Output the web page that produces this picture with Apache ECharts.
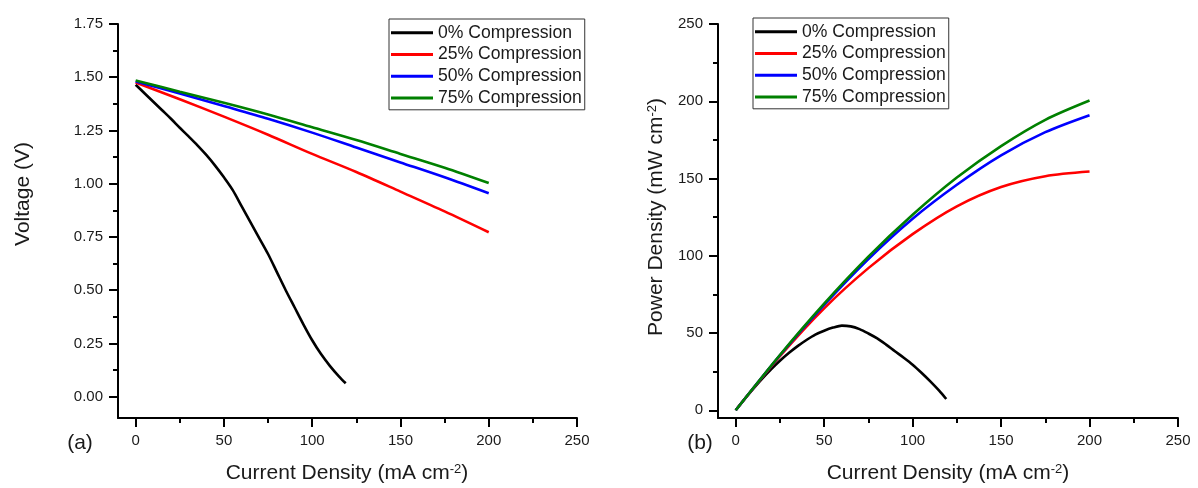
<!DOCTYPE html>
<html>
<head>
<meta charset="utf-8">
<title>Polarization and power density curves</title>
<script src="https://cdn.jsdelivr.net/npm/echarts@6/dist/echarts.min.js"></script>
<style>
  html, body { margin: 0; padding: 0; background: #ffffff; }
  #chart { width: 1198px; height: 488px; }
</style>
</head>
<body>
<div id="chart"></div>
<script>
// ---- data ----
const seriesNames = ['0% Compression', '25% Compression', '50% Compression', '75% Compression'];

// current density (mA cm-2)
const current0 = [0, 5, 10, 15, 20, 25, 30, 35, 40, 45, 50, 55, 60, 65, 70, 75, 80, 85, 90, 95, 100, 105, 110, 115, 119];
const currentFull = [0, 25, 50, 75, 100, 125, 150, 175, 200];

// voltage (V)
const voltage0 = [1.465, 1.425, 1.385, 1.345, 1.305, 1.263, 1.222, 1.18, 1.135, 1.085, 1.03, 0.97, 0.895, 0.82, 0.745, 0.67, 0.585, 0.50, 0.42, 0.34, 0.265, 0.20, 0.145, 0.097, 0.063];
const voltage25 = [1.475, 1.397, 1.315, 1.23, 1.14, 1.055, 0.963, 0.87, 0.772];
const voltage50 = [1.48, 1.424, 1.365, 1.305, 1.24, 1.17, 1.10, 1.03, 0.955];
const voltage75 = [1.485, 1.432, 1.38, 1.325, 1.265, 1.205, 1.14, 1.075, 1.003];

// power density (mW cm-2)
const power0 = [0, 7.2, 14, 20.5, 26.5, 32, 37, 41.5, 45.5, 49, 51.5, 53.5, 54.8, 54.3, 52.5, 49.7, 46.5, 42.5, 38.2, 34, 29.5, 24.3, 18.7, 12.7, 7.3];
const power25 = [0, 35, 66, 92, 114, 132, 144.5, 151.5, 154.5];
const power50 = [0, 35.6, 68.2, 97.9, 124, 146, 165, 180, 191];
const power75 = [0, 35.8, 69, 99.4, 126.5, 150.6, 171, 188, 200.5];

// axis ticks
const currentTicks = [0, 50, 100, 150, 200, 250];
const currentMinorTicks = [25, 75, 125, 175, 225];
const voltageTicks = [0, 0.25, 0.5, 0.75, 1.0, 1.25, 1.5, 1.75];
const voltageMinorTicks = [0.125, 0.375, 0.625, 0.875, 1.125, 1.375, 1.625];
const powerTicks = [0, 50, 100, 150, 200, 250];
const powerMinorTicks = [25, 75, 125, 175, 225];

// ---- styling ----
const FONT = '"Liberation Sans", Arial, Helvetica, sans-serif';
const lineColors = ['#000000', '#ff0000', '#0000ff', '#008000'];
const TEXT = '#1a1a1a';

function pairs(xs, ys) {
  return xs.map((x, i) => [x, ys[i]]);
}

function majorAxis(gridIndex, min, max, ticks, fmt) {
  return {
    type: 'value',
    gridIndex: gridIndex,
    min: min,
    max: max,
    splitLine: { show: false },
    axisLine: { show: true, onZero: false, lineStyle: { color: '#000', width: 2 } },
    axisTick: { show: true, inside: false, length: 9, customValues: ticks, lineStyle: { color: '#000', width: 2 } },
    axisLabel: {
      show: true, margin: 15, customValues: ticks, formatter: fmt,
      color: TEXT, fontSize: 15, fontFamily: FONT
    }
  };
}

function minorAxis(gridIndex, min, max, ticks) {
  return {
    type: 'value',
    gridIndex: gridIndex,
    min: min,
    max: max,
    splitLine: { show: false },
    axisLine: { show: false, onZero: false },
    axisTick: { show: true, inside: false, length: 5, customValues: ticks, lineStyle: { color: '#000', width: 2 } },
    axisLabel: { show: false }
  };
}

const intLabel = v => String(Math.round(v));
const voltLabel = v => v.toFixed(2);

const xAxes = [
  Object.assign(majorAxis(0, -10, 250, currentTicks, intLabel), { position: 'bottom' }),
  Object.assign(minorAxis(0, -10, 250, currentMinorTicks), { position: 'bottom' }),
  Object.assign(majorAxis(1, -10, 250, currentTicks, intLabel), { position: 'bottom' }),
  Object.assign(minorAxis(1, -10, 250, currentMinorTicks), { position: 'bottom' })
];
const yAxes = [
  Object.assign(majorAxis(0, -0.1, 1.75, voltageTicks, voltLabel), { position: 'left' }),
  Object.assign(minorAxis(0, -0.1, 1.75, voltageMinorTicks), { position: 'left' }),
  Object.assign(majorAxis(1, -5, 250, powerTicks, intLabel), { position: 'left' }),
  Object.assign(minorAxis(1, -5, 250, powerMinorTicks), { position: 'left' })
];

function lineSeries(name, idx, axisIndex, data) {
  return {
    type: 'line',
    name: name,
    xAxisIndex: axisIndex,
    yAxisIndex: axisIndex,
    data: data,
    smooth: 0.3,
    showSymbol: false,
    symbol: 'none',
    animation: false,
    lineStyle: { color: lineColors[idx], width: 2.6 },
    itemStyle: { color: lineColors[idx] },
    z: 3 + idx
  };
}

const voltageData = [voltage0, voltage25, voltage50, voltage75];
const powerData = [power0, power25, power50, power75];
const currentData = [current0, currentFull, currentFull, currentFull];

const series = [];
seriesNames.forEach((name, i) => {
  series.push(lineSeries(name, i, 0, pairs(currentData[i], voltageData[i])));
});
seriesNames.forEach((name, i) => {
  series.push(lineSeries(name, i, 2, pairs(currentData[i], powerData[i])));
});

function legendBox(left, top) {
  return {
    show: true,
    orient: 'vertical',
    left: left,
    top: top,
    data: seriesNames,
    icon: 'rect',
    itemWidth: 42,
    itemHeight: 3,
    itemGap: 0,
    padding: [3, 3, 1, 2],
    backgroundColor: '#ffffff',
    borderColor: '#333333',
    borderWidth: 1,
    selectedMode: false,
    textStyle: { color: TEXT, fontSize: 17.6, fontFamily: FONT, lineHeight: 21.7 }
  };
}

const sup = { fontSize: 13, fontFamily: FONT, fill: TEXT, verticalAlign: 'top', padding: [0, 0, 8, 0] };

function titleText(x, y, text, rotate) {
  return {
    type: 'text',
    x: x,
    y: y,
    rotation: rotate ? Math.PI / 2 : 0,
    silent: true,
    style: {
      text: text,
      fill: TEXT,
      fontSize: 21,
      fontFamily: FONT,
      align: 'center',
      verticalAlign: 'middle',
      rich: {
        sup: sup,
        base: { fontSize: 21, fontFamily: FONT, fill: TEXT }
      }
    }
  };
}

const chart = echarts.init(document.getElementById('chart'), null, { renderer: 'canvas' });
chart.setOption({
  backgroundColor: '#ffffff',
  animation: false,
  grid: [
    { left: 118, top: 24, width: 459, height: 394 },
    { left: 718, top: 24, width: 460, height: 394 }
  ],
  xAxis: xAxes,
  yAxis: yAxes,
  legend: [legendBox(389, 19), legendBox(753, 18)],
  series: series,
  graphic: [
    titleText(347, 473, '{base|Current Density (mA cm}{sup|-2}{base|)}', false),
    titleText(948, 473, '{base|Current Density (mA cm}{sup|-2}{base|)}', false),
    titleText(23, 194, 'Voltage (V)', true),
    titleText(656, 217, '{base|Power Density (mW cm}{sup|-2}{base|)}', true),
    { type: 'text', x: 80, y: 443, silent: true,
      style: { text: '(a)', fill: TEXT, fontSize: 21, fontFamily: FONT, align: 'center', verticalAlign: 'middle' } },
    { type: 'text', x: 700, y: 443, silent: true,
      style: { text: '(b)', fill: TEXT, fontSize: 21, fontFamily: FONT, align: 'center', verticalAlign: 'middle' } }
  ]
});
</script>
</body>
</html>
